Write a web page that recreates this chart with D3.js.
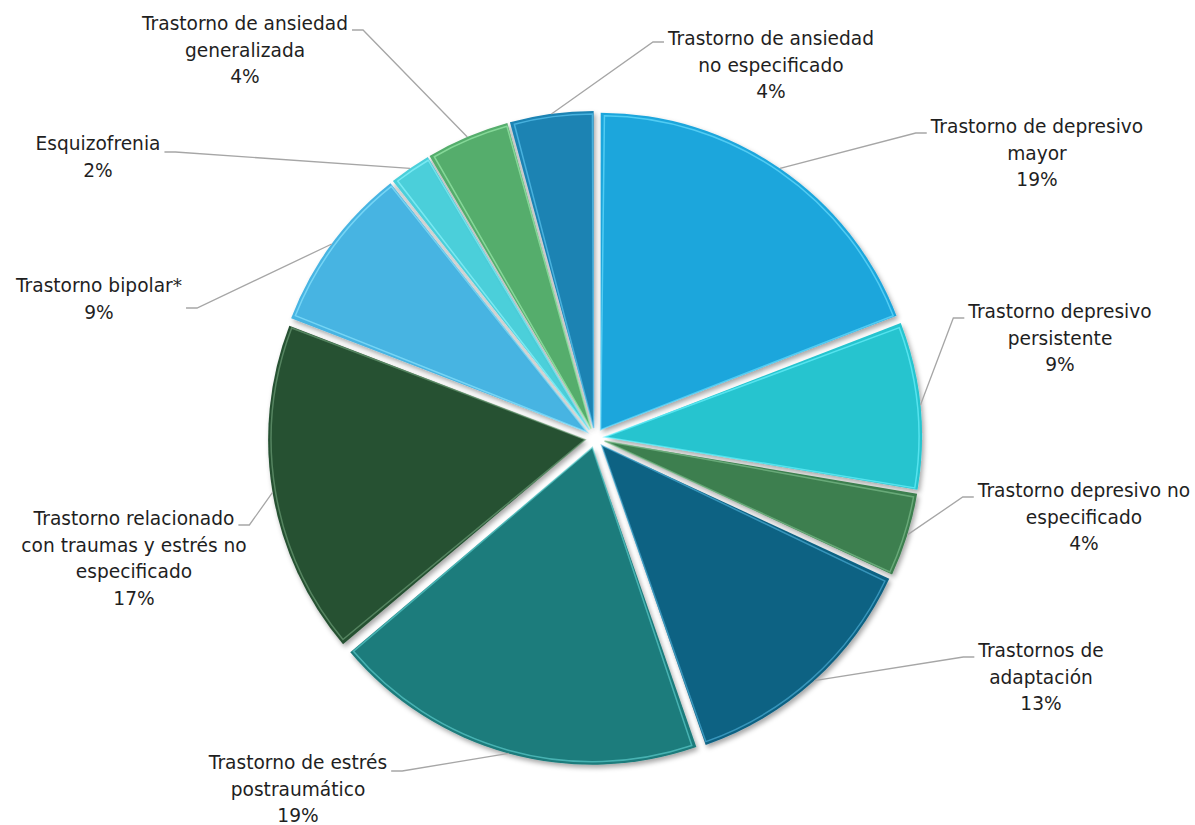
<!DOCTYPE html>
<html>
<head>
<meta charset="utf-8">
<script src="https://cdn.jsdelivr.net/npm/d3@7"></script>
<style>
  body { margin: 0; background: #fff; }
  text { font-family: "DejaVu Sans", sans-serif; font-size: 18.6px; fill: #1f1f1f; }
</style>
</head>
<body>
<script>
// data
const categories = [
  "Trastorno de depresivo mayor",
  "Trastorno depresivo persistente",
  "Trastorno depresivo no especificado",
  "Trastornos de adaptación",
  "Trastorno de estrés postraumático",
  "Trastorno relacionado con traumas y estrés no especificado",
  "Trastorno bipolar*",
  "Esquizofrenia",
  "Trastorno de ansiedad generalizada",
  "Trastorno de ansiedad no especificado"
];
const counts = [9, 4, 2, 6, 9, 8, 4, 1, 2, 2];
const labelLines = [
  ["Trastorno de depresivo", "mayor"],
  ["Trastorno depresivo", "persistente"],
  ["Trastorno depresivo no", "especificado"],
  ["Trastornos de", "adaptación"],
  ["Trastorno de estrés", "postraumático"],
  ["Trastorno relacionado", "con traumas y estrés no", "especificado"],
  ["Trastorno bipolar*"],
  ["Esquizofrenia"],
  ["Trastorno de ansiedad", "generalizada"],
  ["Trastorno de ansiedad", "no especificado"]
];
const colors = ["#1fa6dc", "#26c4cf", "#3c7f4f", "#116283", "#1d7b7b",
                "#255132", "#47b4e2", "#4bcfda", "#54ad6c", "#1b83b3"];
const edgeColors = ["#6fe0ff", "#6ff4ff", "#7fc08f", "#4fb0d8", "#5fd0d0",
                    "#6fa07a", "#8fe6ff", "#8ff8ff", "#a0f0b0", "#5fcaf5"];

// layout of labels (center x, first baseline, side where the leader starts)
const labelPos = [
  {x: 1037, y: 133, side: "L"},
  {x: 1060, y: 318, side: "L"},
  {x: 1084, y: 497, side: "L"},
  {x: 1041, y: 657, side: "L"},
  {x: 298, y: 769, side: "R", ay: 771},
  {x: 134, y: 525, side: "R"},
  {x: 99, y: 292, side: "R", ay: 308},
  {x: 98, y: 150, side: "R", ay: 152},
  {x: 245, y: 30, side: "R"},
  {x: 771, y: 45, side: "L", ay: 42}
];

const width = 1195, height = 825;
const cx = 595, cy = 438, radius = 317, explode = 10, lineH = 26.5;
const total = d3.sum(counts);
const pct = d3.format(".0%");

const svg = d3.select("body").append("svg")
  .attr("width", width)
  .attr("height", height);

const defs = svg.append("defs");
const f = defs.append("filter").attr("id", "shadow")
  .attr("x", "-10%").attr("y", "-10%").attr("width", "130%").attr("height", "130%");
f.append("feDropShadow").attr("dx", 2).attr("dy", 3).attr("stdDeviation", 2.5)
  .attr("flood-color", "#000").attr("flood-opacity", 0.35);

const pie = d3.pie().sort(null).value(d => d)(counts);
const arc = d3.arc().innerRadius(0).outerRadius(radius);
const innerArc = d3.arc().innerRadius(0).outerRadius(radius - 3);

const off = d => {
  const a = (d.startAngle + d.endAngle) / 2;
  return [Math.sin(a) * explode, -Math.cos(a) * explode];
};

const g = svg.append("g").attr("transform", `translate(${cx},${cy})`);

const slices = g.selectAll("g.slice")
  .data(pie)
  .enter()
  .append("g")
  .attr("class", "slice")
  .attr("transform", d => `translate(${off(d)[0]},${off(d)[1]})`);

slices.append("path")
  .attr("d", arc)
  .attr("fill", (d, i) => colors[i])
  .attr("filter", "url(#shadow)");

// bevel highlight
slices.append("path")
  .attr("d", d => innerArc({startAngle: d.startAngle + 0.012, endAngle: d.endAngle - 0.004}))
  .attr("fill", "none")
  .attr("stroke", (d, i) => edgeColors[i])
  .attr("stroke-width", 1.5)
  .attr("stroke-opacity", 0.65);

// labels
const labels = svg.selectAll("g.label")
  .data(pie)
  .enter()
  .append("g")
  .attr("class", "label");

labels.each(function(d, i) {
  const lp = labelPos[i];
  const lines = labelLines[i].concat([pct(d.value / total)]);
  const t = d3.select(this).append("text")
    .attr("text-anchor", "middle");
  lines.forEach((ln, k) => {
    t.append("tspan")
      .attr("x", lp.x)
      .attr("y", lp.y + k * lineH)
      .text(ln);
  });
  const w = t.select("tspan").node().getComputedTextLength();
  const ay = lp.ay !== undefined ? lp.ay : lp.y;
  const ax = lp.side === "L" ? lp.x - w / 2 - 4 : lp.x + w / 2 + 4;
  const ex = lp.side === "L" ? ax - 11 : ax + 11;
  const a = (d.startAngle + d.endAngle) / 2;
  const px = cx + Math.sin(a) * (radius + explode);
  const py = cy - Math.cos(a) * (radius + explode);
  svg.insert("polyline", "g.label")
    .attr("points", [[ax, ay], [ex, ay], [px, py]].map(p => p.join(",")).join(" "))
    .attr("fill", "none")
    .attr("stroke", "#a6a6a6")
    .attr("stroke-width", 1.3);
});
</script>
</body>
</html>
